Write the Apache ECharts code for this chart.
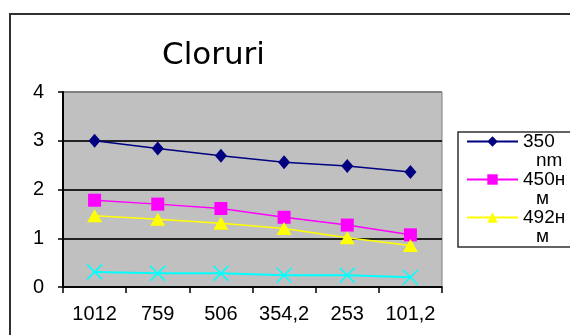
<!DOCTYPE html>
<html>
<head>
<meta charset="utf-8">
<script src="https://cdn.jsdelivr.net/npm/echarts@6/dist/echarts.min.js"></script>
<style>
  html, body { margin: 0; padding: 0; background: #fff; }
  #chart { width: 570px; height: 335px; }
</style>
</head>
<body>
<div id="chart"></div>
<script>
// Concentration categories along the x axis
const categories = ['1012', '759', '506', '354,2', '253', '101,2'];

// Measured absorbance per wavelength
const seriesNames = ['350 nm', '450нм', '492нм', 'Seria4'];
const values350 = [3.00, 2.84, 2.69, 2.56, 2.48, 2.36];
const values450 = [1.78, 1.70, 1.61, 1.43, 1.27, 1.07];
const values492 = [1.46, 1.39, 1.31, 1.20, 1.01, 0.85];
const values4 = [0.31, 0.28, 0.28, 0.24, 0.24, 0.20];

// Legend captions wrap onto two lines
const legendLine1 = ['350', '450н', '492н'];
const legendLine2 = ['nm', 'м', 'м'];

// Y axis ticks
const yTicks = [0, 1, 2, 3, 4];

const axisFont = 'Liberation Sans, Arial, sans-serif';

function lineOf(lines) {
  return function (name) {
    const i = seriesNames.indexOf(name);
    return i >= 0 && i < lines.length ? lines[i] : '';
  };
}

const chart = echarts.init(document.getElementById('chart'), null, { renderer: 'canvas' });

chart.setOption({
  backgroundColor: '#ffffff',
  animation: false,
  title: {
    text: 'Cloruri',
    left: 162,
    top: 40,
    padding: 0,
    textStyle: { fontFamily: 'DejaVu Sans, sans-serif', fontSize: 31, fontWeight: 'normal', color: '#000' }
  },
  graphic: [{
    type: 'rect',
    shape: { x: 10, y: 14, width: 700, height: 500 },
    style: { fill: 'none', stroke: '#303030', lineWidth: 2 },
    silent: true
  }],
  legend: [{
    data: seriesNames.slice(0, 3),
    orient: 'vertical',
    left: 458,
    top: 132,
    padding: [0, 10, 20, 8],
    itemWidth: 51,
    itemHeight: 13,
    itemGap: 19,
    textGap: 8,
    selectedMode: false,
    backgroundColor: '#ffffff',
    borderColor: '#303030',
    borderWidth: 1.5,
    borderRadius: 0,
    formatter: lineOf(legendLine1),
    textStyle: { fontFamily: axisFont, fontSize: 19, lineHeight: 19, color: '#000' }
  }, {
    data: seriesNames.slice(0, 3),
    orient: 'vertical',
    left: 530,
    top: 151,
    padding: 0,
    itemGap: 19,
    itemWidth: 0,
    itemHeight: 0,
    textGap: 0,
    selectedMode: false,
    formatter: lineOf(legendLine2),
    textStyle: { fontFamily: axisFont, fontSize: 19, lineHeight: 19, color: '#000' }
  }],
  grid: {
    left: 63,
    right: 128,
    top: 92,
    bottom: 48,
    show: true,
    backgroundColor: '#c0c0c0',
    borderColor: '#808080',
    borderWidth: 1
  },
  xAxis: {
    type: 'category',
    data: categories,
    boundaryGap: true,
    axisLine: { lineStyle: { color: '#000', width: 1.5 } },
    axisTick: { show: true, length: 6, alignWithLabel: false, lineStyle: { color: '#000', width: 1.5 } },
    axisLabel: { interval: 0, margin: 17, fontFamily: axisFont, fontSize: 20, color: '#000' },
    splitLine: { show: false }
  },
  yAxis: {
    type: 'value',
    min: yTicks[0],
    max: yTicks[yTicks.length - 1],
    interval: 1,
    axisLine: { show: true, lineStyle: { color: '#000', width: 2 } },
    axisTick: { show: true, length: 5, lineStyle: { color: '#000', width: 1.5 } },
    axisLabel: { margin: 19, fontFamily: axisFont, fontSize: 20, color: '#000' },
    splitLine: { show: true, lineStyle: { color: ['#222', '#222', '#222', '#222', '#808080'], width: 2 } }
  },
  series: [{
    name: seriesNames[0],
    type: 'line',
    data: values350,
    symbol: 'diamond',
    symbolSize: [12, 14],
    itemStyle: { color: '#000080' },
    lineStyle: { color: '#000080', width: 1.5 }
  }, {
    name: seriesNames[1],
    type: 'line',
    data: values450,
    symbol: 'rect',
    symbolSize: 13,
    itemStyle: { color: '#ff00ff' },
    lineStyle: { color: '#ff00ff', width: 1.5 }
  }, {
    name: seriesNames[2],
    type: 'line',
    data: values492,
    symbol: 'triangle',
    symbolSize: [15, 13],
    itemStyle: { color: '#ffff00' },
    lineStyle: { color: '#ffff00', width: 1.5 }
  }, {
    name: seriesNames[3],
    type: 'line',
    data: values4,
    symbol: 'path://M0,0L10,10M10,0L0,10',
    symbolSize: 15,
    itemStyle: { color: 'none', borderColor: '#00ffff', borderWidth: 1.5 },
    lineStyle: { color: '#00ffff', width: 2 }
  }]
});
</script>
</body>
</html>
